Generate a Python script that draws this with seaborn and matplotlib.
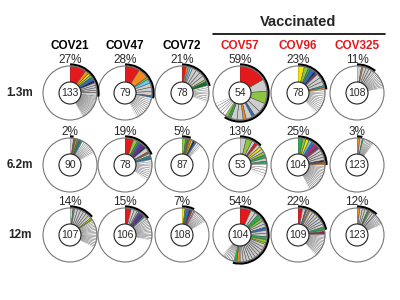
import matplotlib
matplotlib.use("Agg")
import matplotlib.pyplot as plt
from matplotlib.patches import Circle, Arc
import seaborn as sns

sns.set_style("white")
plt.rcParams['font.family'] = ['Liberation Sans', 'DejaVu Sans']

donors = ["COV21", "COV47", "COV72", "COV57", "COV96", "COV325"]
vaccinated = [False, False, False, True, True, True]
timepoints = ["1.3m", "6.2m", "12m"]

n_seqs_13m = [133, 79, 78, 54, 78, 108]
n_seqs_62m = [90, 78, 87, 53, 104, 123]
n_seqs_12m = [107, 106, 108, 104, 109, 123]

pct_13m = [27, 28, 21, 59, 23, 11]
pct_62m = [2, 19, 5, 13, 25, 3]
pct_12m = [14, 15, 7, 54, 22, 12]

# slice code + number of sequences; 's' = single sequences (drawn one by one)
slices_13m = [
    "R13 O3 Y2 L2 B3 N2 g2 g2 g2 g2 g3 s20",
    "R7 O5 L1 C2 g2 g2 g2 B1 s12",
    "R2 O1 C1 c1 g2 g2 g2 g2 L1 D2 s8",
    "R9 g4 L4 g3 g2 B1 g2 O1 g2 g2 G1 L1 s5",
    "Y3 L2 G1 B2 N1 P1 g2 g2 g2 T1 O1 s12",
    "g3 O1 g2 g2 g2 g2 s12",
]
slices_62m = [
    "g2 W1 O1 G1 B1 T1 s9",
    "R4 L2 G1 B1 P2 N1 g2 W1 g1 T1 B1 s10",
    "L2 G1 W1 O1 Y1 N1 B1 s3",
    "g2 L2 g1 R1 g1 Y1 g1 L1 G1 g1 G1 s4",
    "G3 L2 Y2 C2 B2 M2 P1 R1 g2 g2 g2 g2 N1 W1 O1 s19",
    "O2 g2 G1 s8",
]
slices_12m = [
    "g2 G1 g2 g2 g2 g2 g2 g2 Y1 L1 s18",
    "R4 g2 g2 g1 B1 P2 N1 T1 g2 s14",
    "Y2 G1 B2 N1 R1 g1 K1 s9",
    "R7 g3 g2 G3 L2 g2 g2 B2 g2 g2 G2 L2 Y1 g2 g2 g2 g2 g2 g2 g2 g2 g2 g2 O2 G2 s8",
    "R3 g2 B1 g1 O1 g2 g2 g2 g2 g2 g2 g2 G2 L1 X1 X1 s15",
    "O2 g2 g2 g2 G1 L1 g2 g2 g1 s8",
]

palette = {
    "R": "#e3191c", "O": "#f58a1f", "Y": "#f2e600", "L": "#8cc63e",
    "G": "#2fa84f", "D": "#0b6e35", "C": "#5fcdf0", "c": "#a8dcf0",
    "B": "#2f6fb8", "N": "#1d1f6b", "P": "#6a2c91", "M": "#e0129a",
    "T": "#12a39a", "W": "#9a5a2a", "K": "#f29ac0", "X": "#8a1c45",
    "g": "#cdcdcd", "s": "#ffffff",
}

col_x = [70, 125, 182, 240, 298, 357]
row_y = [93, 165, 235]
R_OUT, R_IN = 27, 11

fig = plt.figure(figsize=(4, 3), dpi=100)
ax = fig.add_axes([0, 0, 1, 1])

rows = [(n_seqs_13m, pct_13m, slices_13m),
        (n_seqs_62m, pct_62m, slices_62m),
        (n_seqs_12m, pct_12m, slices_12m)]

for ri, (ns, pcts, sls) in enumerate(rows):
    cy = 300 - row_y[ri]
    for ci in range(6):
        cx = col_x[ci]
        n = ns[ci]
        vals, cols, kinds = [], [], []
        for tok in sls[ci].split():
            code, cnt = tok[0], int(tok[1:])
            if code == "s":
                for _ in range(cnt):
                    vals.append(1); cols.append(palette["s"]); kinds.append("s")
            else:
                vals.append(cnt); cols.append(palette[code]); kinds.append("c")
        rest = n - sum(vals)
        vals.append(rest); cols.append("white"); kinds.append("w")
        wedges, _ = ax.pie(vals, colors=cols, startangle=90, counterclock=False,
                           radius=R_OUT, center=(cx, cy), frame=True,
                           wedgeprops=dict(width=R_OUT - R_IN, linewidth=0.35,
                                           edgecolor="#4a4a4a"))
        for w, k in zip(wedges, kinds):
            if k == "s":
                w.set_edgecolor("#7c7c7c"); w.set_linewidth(0.3)
            elif k == "w":
                w.set_edgecolor("none")
        ax.add_patch(Circle((cx, cy), R_OUT, fill=False, ec="#777777", lw=0.8, zorder=3))
        ax.add_patch(Circle((cx, cy), R_IN, fc="white", ec="#222222", lw=0.8, zorder=4))
        ax.text(cx, cy, str(n), ha="center", va="center", fontsize=7.5, zorder=5)
        p = pcts[ci]
        ax.add_patch(Arc((cx, cy), 2 * (R_OUT + 1.6), 2 * (R_OUT + 1.6),
                         theta1=90 - p * 3.6, theta2=90, color="black", lw=1.5, zorder=4))
        ax.text(cx, cy + R_OUT + 6, f"{p}%", ha="center", va="center", fontsize=8.5)
    ax.text(20, cy, timepoints[ri], ha="center", va="center", fontsize=8.5,
            fontweight="bold")

for ci, d in enumerate(donors):
    ax.text(col_x[ci], 300 - 46, d, ha="center", va="center", fontsize=8.5,
            fontweight="bold", color="#e3191c" if vaccinated[ci] else "black")

ax.text(298, 300 - 22, "Vaccinated", ha="center", va="center", fontsize=10.5,
        fontweight="bold")
ax.plot([213, 385], [300 - 34, 300 - 34], color="black", lw=1.2)

ax.set_xlim(0, 400)
ax.set_ylim(0, 300)
ax.set_aspect("equal")
ax.axis("off")
fig.savefig("out.png", dpi=100, facecolor="white")
